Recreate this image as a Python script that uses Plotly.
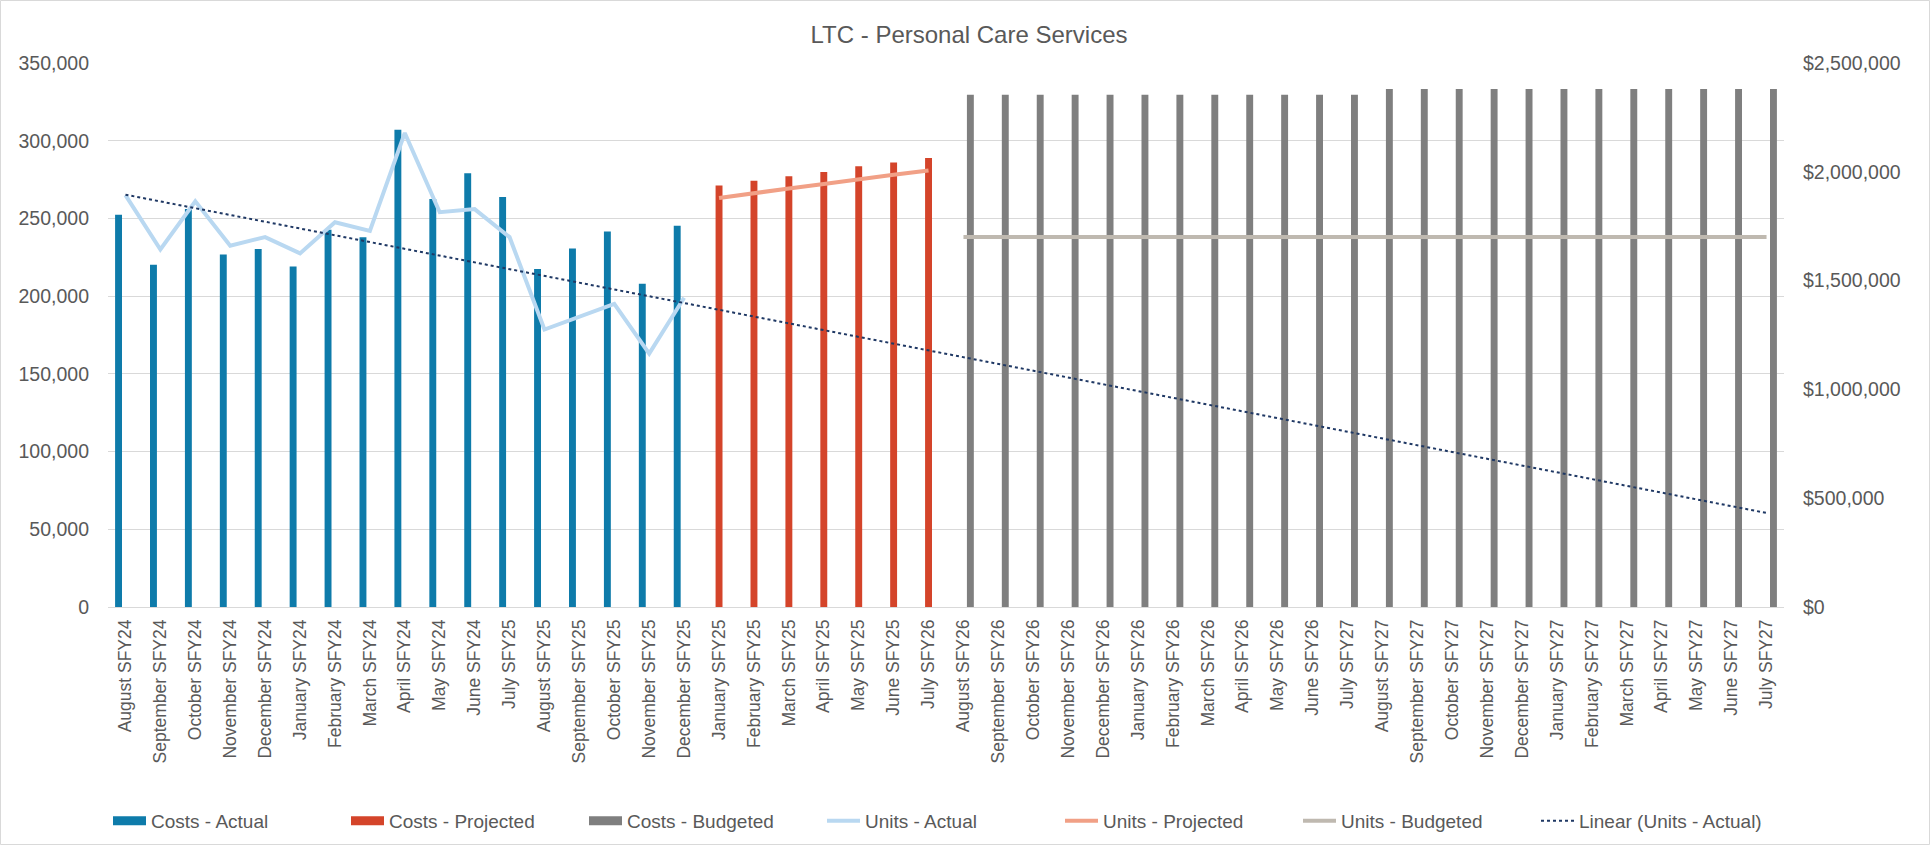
import plotly.graph_objects as go

# ---------------- data ----------------
categories = [
    "August SFY24", "September SFY24", "October SFY24", "November SFY24", "December SFY24",
    "January SFY24", "February SFY24", "March SFY24", "April SFY24", "May SFY24", "June SFY24",
    "July SFY25", "August SFY25", "September SFY25", "October SFY25", "November SFY25",
    "December SFY25", "January SFY25", "February SFY25", "March SFY25", "April SFY25",
    "May SFY25", "June SFY25", "July SFY26", "August SFY26", "September SFY26",
    "October SFY26", "November SFY26", "December SFY26", "January SFY26", "February SFY26",
    "March SFY26", "April SFY26", "May SFY26", "June SFY26", "July SFY27", "August SFY27",
    "September SFY27", "October SFY27", "November SFY27", "December SFY27", "January SFY27",
    "February SFY27", "March SFY27", "April SFY27", "May SFY27", "June SFY27", "July SFY27",
]

costs_actual = [1803000, 1573000, 1829000, 1620000, 1645000, 1565000, 1734000, 1699000,
                2193000, 1875000, 1993000, 1884000, 1553000, 1648000, 1726000, 1486000,
                1752000]
costs_projected = [1937500, 1959000, 1979000, 1999000, 2025000, 2043000, 2063000]
costs_budgeted = [2354000, 2354000, 2354000, 2354000, 2354000, 2354000,
                  2354000, 2354000, 2354000, 2354000, 2354000, 2354000,
                  2380500, 2380500, 2380500, 2380500, 2380500, 2380500,
                  2380500, 2380500, 2380500, 2380500, 2380500, 2380500]

units_actual = [265000, 230000, 261000, 232500, 238000, 227500, 247500, 242000, 305000,
                254000, 256000, 238000, 178500, 187000, 195000, 163000, 199000]
units_projected = [263100, 266400, 269300, 272100, 275400, 278100, 280900]
units_budgeted = [238000, 238000, 238000, 238000, 238000, 238000,
                  238000, 238000, 238000, 238000, 238000, 238000,
                  238000, 238000, 238000, 238000, 238000, 238000,
                  238000, 238000, 238000, 238000, 238000, 238000]

# linear trendline of Units - Actual, read at first and last category
trend_units = [265300, 60500]

units_ticks = [0, 50000, 100000, 150000, 200000, 250000, 300000, 350000]
cost_ticks = [0, 500000, 1000000, 1500000, 2000000, 2500000]
units_labels = [f"{v:,}" for v in units_ticks]
cost_labels = [f"${v:,}" for v in cost_ticks]

# ---------------- positions ----------------
idx = list(range(len(categories)))
n_a = len(costs_actual)
n_p = len(costs_projected)
x_actual = idx[:n_a]
x_proj = idx[n_a:n_a + n_p]
x_budg = idx[n_a + n_p:]
x_trend = [idx[0], idx[-1]]

# ---------------- style ----------------
FONT = "Liberation Sans, Arial, sans-serif"
TXT = "#595959"
GRID = "#D9D9D9"
C_ACT, C_PROJ, C_BUDG = "#0E7BAA", "#D4442A", "#7F7F7F"
U_ACT, U_PROJ, U_BUDG = "#B9D8F1", "#F1A086", "#BFB9B0"
TREND = "#1F3864"

BW = 0.198  # bar width in category units (clustered, 3 slots)

W, H = 1930, 845
L, R, T, B = 108, 146, 63, 238

fig = go.Figure()

# bars (costs) on primary y (right side, $)
fig.add_trace(go.Bar(x=x_actual, y=costs_actual, name="Costs - Actual", width=BW, offset=-1.5 * BW,
                     marker=dict(color=C_ACT, line=dict(width=0)), showlegend=False))
fig.add_trace(go.Bar(x=x_proj, y=costs_projected, name="Costs - Projected", width=BW, offset=-0.5 * BW,
                     marker=dict(color=C_PROJ, line=dict(width=0)), showlegend=False))
fig.add_trace(go.Bar(x=x_budg, y=costs_budgeted, name="Costs - Budgeted", width=BW, offset=0.5 * BW,
                     marker=dict(color=C_BUDG, line=dict(width=0)), showlegend=False))

# legend entries for the bars (wide rectangle swatches)
for nm, col in [("Costs - Actual", C_ACT), ("Costs - Projected", C_PROJ),
                ("Costs - Budgeted", C_BUDG)]:
    fig.add_trace(go.Scatter(x=[None], y=[None], mode="lines", name=nm,
                             line=dict(color=col, width=9), hoverinfo="skip"))

# lines (units) on y2 (left side)
fig.add_trace(go.Scatter(x=x_actual, y=units_actual, name="Units - Actual", mode="lines",
                         line=dict(color=U_ACT, width=4), yaxis="y2"))
fig.add_trace(go.Scatter(x=x_proj, y=units_projected, name="Units - Projected", mode="lines",
                         line=dict(color=U_PROJ, width=4), yaxis="y2"))
fig.add_trace(go.Scatter(x=x_budg, y=units_budgeted, name="Units - Budgeted", mode="lines",
                         line=dict(color=U_BUDG, width=4), yaxis="y2"))
fig.add_trace(go.Scatter(x=x_trend, y=trend_units, name="Linear (Units - Actual)", mode="lines",
                         line=dict(color=TREND, width=2, dash="dot"), yaxis="y2"))

pw = W - L - R
ph = H - T - B

fig.update_layout(
    width=W, height=H,
    margin=dict(l=L, r=R, t=T, b=B, autoexpand=False),
    paper_bgcolor="white", plot_bgcolor="white",
    font=dict(family=FONT, color=TXT, size=18),
    barmode="overlay",
    title=dict(text="LTC - Personal Care Services", font=dict(size=24, color=TXT, family=FONT),
               x=969 / W, xanchor="center", y=1 - 35 / H, yanchor="middle",
               xref="container", yref="container"),
    xaxis=dict(tickmode="array", tickvals=idx, ticktext=categories, tickangle=-90,
               range=[-0.5, len(categories) - 0.5], showgrid=False, zeroline=False,
               showline=False, ticks="", ticklabelstandoff=8,
               tickfont=dict(size=17.5, color=TXT, family=FONT)),
    yaxis=dict(side="right", range=[0, 2500000], tickmode="array", tickvals=cost_ticks,
               ticktext=cost_labels, showgrid=False, zeroline=False,
               ticks="", ticklabelstandoff=18,
               tickfont=dict(size=19.5, color=TXT, family=FONT)),
    yaxis2=dict(side="left", overlaying="y", range=[0, 350000], tickmode="array",
                tickvals=units_ticks, ticktext=units_labels, showgrid=True, gridcolor=GRID,
                gridwidth=1, zeroline=True, zerolinecolor=GRID, zerolinewidth=1,
                ticks="", ticklabelstandoff=18,
                tickfont=dict(size=19.5, color=TXT, family=FONT)),
    legend=dict(orientation="h", xref="container", yref="container",
                x=108 / W, y=1 - 821 / H, xanchor="left", yanchor="middle",
                font=dict(size=19, color=TXT, family=FONT), entrywidth=190,
                itemwidth=33,
                bgcolor="rgba(0,0,0,0)", traceorder="normal"),
    shapes=[dict(type="rect", xref="paper", yref="paper",
                 x0=(0.5 - L) / pw, x1=(W - 0.5 - L) / pw,
                 y0=-(B - 0.5) / ph, y1=1 + (T - 0.5) / ph,
                 line=dict(color=GRID, width=1), layer="below")],
    hovermode=False,
)

fig.write_html("out.html", config={"displayModeBar": False},
               post_script="document.body.style.margin='0';document.body.style.overflow='hidden';")
